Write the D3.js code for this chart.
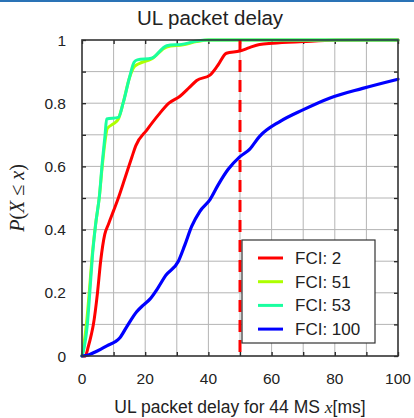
<!DOCTYPE html>
<html>
<head>
<meta charset="utf-8">
<script src="https://cdn.jsdelivr.net/npm/d3@7"></script>
<style>
  html, body { margin: 0; padding: 0; background: #fff; }
  svg { display: block; }
  text { font-family: "Liberation Sans", Arial, sans-serif; fill: #222; }
  .math { font-family: "Liberation Serif", "DejaVu Serif", serif; font-style: italic; }
  .upright { font-style: normal; }
</style>
</head>
<body>
<svg id="chart" width="414" height="418"></svg>
<script>
// Empirical CDFs of UL packet delay, [delay ms, P(X <= x)]
const fci2 = [[0,0],[1,0],[2,0.03],[3,0.07],[3.6,0.1],[4.9,0.2],[5.9,0.3],[7.2,0.385],[8.4,0.418],[10,0.46],[11.5,0.5],[13.5,0.56],[15.8,0.63],[17,0.665],[20.5,0.715],[24.2,0.763],[27.5,0.8],[31,0.822],[34,0.85],[36.3,0.872],[40.5,0.889],[43,0.92],[45.7,0.958],[49.9,0.965],[53,0.976],[56.2,0.986],[60.3,0.99],[70,0.995],[80,0.999],[100,1]];
const fci51 = [[0,0],[0.5,0.03],[1.5,0.11],[2.4,0.215],[3.2,0.315],[4.3,0.416],[5.5,0.505],[6.4,0.6],[7.3,0.68],[8,0.72],[10,0.735],[11.5,0.75],[13,0.8],[15,0.88],[16.5,0.915],[18,0.925],[22,0.94],[26.8,0.978],[32,0.985],[36.3,0.995],[40,1],[100,1]];
const fci53 = [[0,0],[0.7,0.027],[1.7,0.1],[2.5,0.205],[3.25,0.31],[4.3,0.416],[5.5,0.505],[6.4,0.61],[7.3,0.7],[7.8,0.75],[11.5,0.755],[13,0.8],[15,0.88],[16.5,0.93],[17.5,0.937],[22,0.942],[26.8,0.982],[32,0.987],[36.3,0.997],[40,1],[100,1]];
const fci100 = [[0,0],[2,0.003],[4,0.012],[6,0.022],[8,0.033],[10.5,0.045],[12,0.058],[14,0.09],[17.3,0.14],[19.5,0.162],[21.5,0.18],[24,0.215],[26.5,0.255],[30.5,0.3],[32.5,0.35],[34.7,0.41],[37.3,0.458],[40.5,0.495],[43,0.54],[46.2,0.59],[49.9,0.63],[53.1,0.655],[56.2,0.695],[62.6,0.742],[69.9,0.779],[78.3,0.816],[88.8,0.847],[100,0.876]];

const seriesNames = ["FCI: 2", "FCI: 51", "FCI: 53", "FCI: 100"];
const seriesData = [fci2, fci51, fci53, fci100];
const seriesColors = ["#ff0000", "#adff00", "#19ffa0", "#0000ff"];

const xTicks = [0, 20, 40, 60, 80, 100];
const yTicks = [0, 0.2, 0.4, 0.6, 0.8, 1];
const markerDelay = 50;

const svg = d3.select("#chart");
const W = 414, H = 418;
const m = { left: 82, right: 16, top: 40, bottom: 62 };

// slide header rule
svg.append("rect").attr("x", 0).attr("y", 0).attr("width", W).attr("height", 2).attr("fill", "#2a73b6");

const x = d3.scaleLinear().domain([0, 100]).range([m.left, W - m.right]);
const y = d3.scaleLinear().domain([0, 1]).range([H - m.bottom, m.top]);

// grid
const grid = svg.append("g").attr("stroke", "#b4b4b4").attr("stroke-width", 1);
grid.selectAll("line.gx").data(d3.range(10, 100, 10)).join("line")
  .attr("x1", d => x(d)).attr("x2", d => x(d)).attr("y1", y(0)).attr("y2", y(1));
grid.selectAll("line.gy").data(d3.range(1, 10).map(i => i / 10)).join("line")
  .attr("y1", d => y(d)).attr("y2", d => y(d)).attr("x1", x(0)).attr("x2", x(100));

// inward ticks on all sides
const tickLen = 4;
const xt = d3.range(0, 101, 10), yt = d3.range(0, 11).map(i => i / 10);
const axesG = svg.append("g");
axesG.append("g").attr("transform", `translate(0,${y(0)})`)
  .call(d3.axisBottom(x).tickValues(xt).tickSize(-tickLen).tickFormat(""));
axesG.append("g").attr("transform", `translate(0,${y(1)})`)
  .call(d3.axisTop(x).tickValues(xt).tickSize(-tickLen).tickFormat(""));
axesG.append("g").attr("transform", `translate(${x(0)},0)`)
  .call(d3.axisLeft(y).tickValues(yt).tickSize(-tickLen).tickFormat(""));
axesG.append("g").attr("transform", `translate(${x(100)},0)`)
  .call(d3.axisRight(y).tickValues(yt).tickSize(-tickLen).tickFormat(""));
axesG.selectAll(".domain").remove();
axesG.selectAll(".tick line").attr("stroke", "#222").attr("stroke-width", 1.3);

// tick labels
svg.append("g").selectAll("text").data(xTicks).join("text")
  .attr("x", d => x(d)).attr("y", y(0) + 28).attr("text-anchor", "middle")
  .attr("font-size", 15.5).text(d => d);
svg.append("g").selectAll("text").data(yTicks).join("text")
  .attr("x", x(0) - 16).attr("y", d => y(d) + 5.5).attr("text-anchor", "end")
  .attr("font-size", 15.5).text(d => d3.format("~g")(d));

// curves
const line = d3.line().x(d => x(d[0])).y(d => y(d[1])).curve(d3.curveMonotoneX);
const curves = svg.append("g").attr("fill", "none").attr("stroke-linejoin", "round").attr("stroke-linecap", "round");
curves.selectAll("path").data(seriesData).join("path")
  .attr("d", d => line(d))
  .attr("stroke", (d, i) => seriesColors[i])
  .attr("stroke-width", (d, i) => i === 3 ? 3.2 : 3);

// 50 ms marker
svg.append("line")
  .attr("x1", x(markerDelay)).attr("x2", x(markerDelay)).attr("y1", y(1)).attr("y2", y(0))
  .attr("stroke", "#ff0000").attr("stroke-width", 3).attr("stroke-dasharray", "12,8");

// frame
svg.append("rect").attr("x", x(0)).attr("y", y(1)).attr("width", x(100) - x(0)).attr("height", y(0) - y(1))
  .attr("fill", "none").attr("stroke", "#333").attr("stroke-width", 1.6);

// legend
const lg = svg.append("g").attr("transform", "translate(242,240)");
lg.append("rect").attr("width", 133).attr("height", 103).attr("fill", "#fff").attr("stroke", "#333").attr("stroke-width", 1.2);
const items = lg.selectAll("g.item").data(seriesNames).join("g")
  .attr("transform", (d, i) => `translate(0,${18 + i * 23.7})`);
items.append("line").attr("x1", 16).attr("x2", 41).attr("y1", 0).attr("y2", 0)
  .attr("stroke", (d, i) => seriesColors[i]).attr("stroke-width", 3);
items.append("text").attr("x", 53).attr("y", 6).attr("font-size", 17).text(d => d);

// title
svg.append("text").attr("x", 210).attr("y", 25).attr("text-anchor", "middle")
  .attr("font-size", 20.5).text("UL packet delay");

// x axis label
const xl = svg.append("text").attr("x", 240).attr("y", 413).attr("text-anchor", "middle").attr("font-size", 17.5);
xl.append("tspan").text("UL packet delay for 44 MS ");
xl.append("tspan").attr("class", "math").text("x");
xl.append("tspan").text("[ms]");

// y axis label
const yl = svg.append("text").attr("transform", "translate(24,198) rotate(-90)")
  .attr("text-anchor", "middle").attr("font-size", 20).attr("class", "math");
yl.append("tspan").text("P");
yl.append("tspan").attr("class", "upright").text("(");
yl.append("tspan").text("X");
yl.append("tspan").attr("class", "upright").text(" ≤ ");
yl.append("tspan").text("x");
yl.append("tspan").attr("class", "upright").text(")");
</script>
</body>
</html>
